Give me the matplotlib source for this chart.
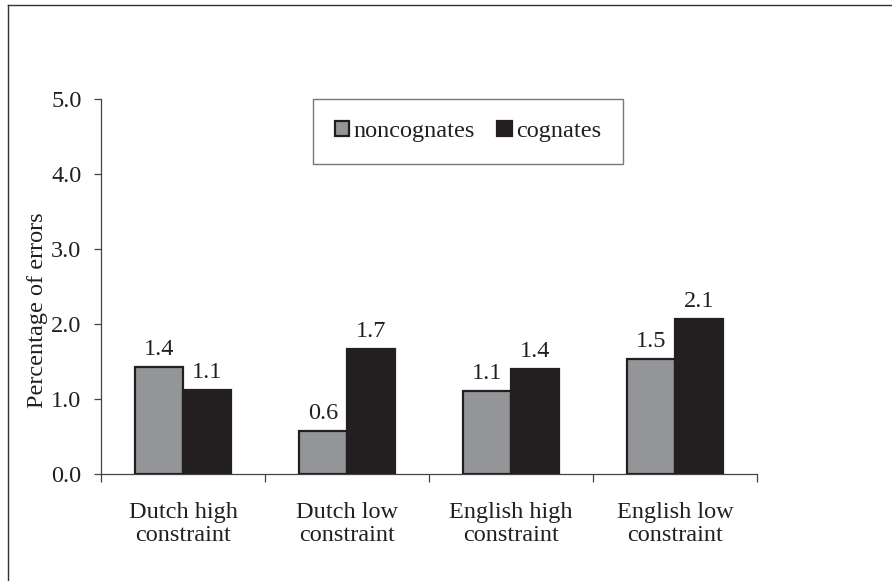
import matplotlib
matplotlib.use('Agg')
import matplotlib.pyplot as plt
from matplotlib.lines import Line2D
import numpy as np

categories = ['Dutch high\nconstraint', 'Dutch low\nconstraint',
              'English high\nconstraint', 'English low\nconstraint']
noncognates = [1.43, 0.57, 1.11, 1.53]
cognates = [1.12, 1.67, 1.40, 2.07]
noncog_labels = ['1.4', '0.6', '1.1', '1.5']
cog_labels = ['1.1', '1.7', '1.4', '2.1']
y_ticks = [0.0, 1.0, 2.0, 3.0, 4.0, 5.0]

plt.rcParams['font.family'] = ['Liberation Serif', 'DejaVu Serif']
txt = '#231f20'
fs = 17.5

fig = plt.figure(figsize=(8.92, 5.81), dpi=100)
ax = fig.add_axes([101 / 892, 1 - 474 / 581, 656 / 892, 375 / 581])

x = np.arange(len(categories))
w = 0.29
ax.bar(x - w / 2, noncognates, w, color='#939598', edgecolor='#231f20',
       linewidth=1.6, label='noncognates', zorder=3)
ax.bar(x + w / 2, cognates, w, color='#231f20', edgecolor='#231f20',
       linewidth=1.6, label='cognates', zorder=3)

for xi, v, s in zip(x - w / 2, noncognates, noncog_labels):
    ax.annotate(s, (xi, v), xytext=(0, 5), textcoords='offset points',
                ha='center', va='bottom', fontsize=fs, color=txt)
for xi, v, s in zip(x + w / 2, cognates, cog_labels):
    ax.annotate(s, (xi, v), xytext=(0, 5), textcoords='offset points',
                ha='center', va='bottom', fontsize=fs, color=txt)

ax.set_xlim(-0.5, len(categories) - 0.5)
ax.set_ylim(0, 5.0)
ax.set_yticks(y_ticks)
ax.set_yticklabels(['%.1f' % t for t in y_ticks], fontsize=fs, color=txt)
ax.tick_params(axis='y', direction='out', length=5, width=0.9, color='#444444', pad=9)

ax.set_xticks(np.arange(-0.5, len(categories)))
ax.set_xticklabels([])
ax.tick_params(axis='x', which='major', direction='out', length=6, width=0.9, color='#444444')
ax.set_xticks(x, minor=True)
ax.set_xticklabels(categories, minor=True, fontsize=fs, color=txt, linespacing=1.15)
ax.tick_params(axis='x', which='minor', length=0, pad=20)

for side in ['top', 'right']:
    ax.spines[side].set_visible(False)
for side in ['left', 'bottom']:
    ax.spines[side].set_color('#444444')
    ax.spines[side].set_linewidth(0.9)

ax.set_ylabel('Percentage of errors', fontsize=fs, color=txt)
ax.yaxis.set_label_coords(-0.081, 0.437)

leg = ax.legend(loc='upper left', bbox_to_anchor=(0.323, 1.0), ncol=2,
                fontsize=fs, frameon=True, fancybox=False, borderaxespad=0,
                handlelength=0.6, handleheight=0.6, handletextpad=0.15,
                columnspacing=0.95, borderpad=0.9)
leg.get_frame().set_edgecolor('#555555')
leg.get_frame().set_linewidth(1.0)
for t in leg.get_texts():
    t.set_color(txt)

# outer frame (cropped on right and bottom)
fig.add_artist(Line2D([8 / 892, 8 / 892], [0, 1 - 5 / 581], transform=fig.transFigure,
                      color='#333333', linewidth=1.0))
fig.add_artist(Line2D([8 / 892, 1], [1 - 5 / 581, 1 - 5 / 581], transform=fig.transFigure,
                      color='#333333', linewidth=1.0))

fig.savefig('out.png', dpi=100)
plt.close(fig)
